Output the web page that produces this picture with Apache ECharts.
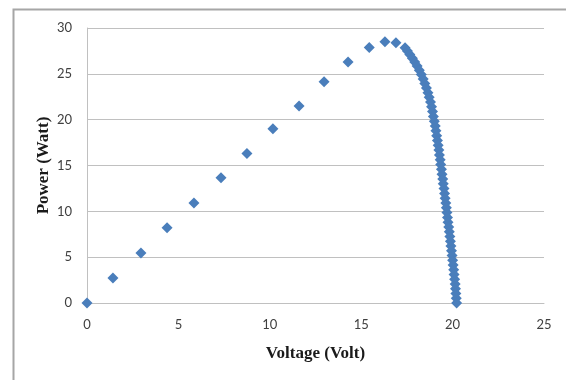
<!DOCTYPE html>
<html>
<head>
<meta charset="utf-8">
<script src="https://cdn.jsdelivr.net/npm/echarts@6/dist/echarts.min.js"></script>
<style>
html,body{margin:0;padding:0;background:#fff;}
#chart{width:566px;height:380px;}
</style>
</head>
<body>
<div id="chart"></div>
<script>
// Voltage (V) readings
var voltage = [
  0, 1.42, 2.95, 4.38, 5.85, 7.33, 8.75, 10.17, 11.6, 12.97, 14.28, 15.44, 16.30, 16.90,
  17.40, 17.53, 17.66, 17.80, 17.93, 18.06, 18.18, 18.29, 18.39, 18.48,
  18.57, 18.65, 18.72, 18.79, 18.85, 18.90, 18.95, 19.00, 19.05, 19.09,
  19.13, 19.17, 19.21, 19.25, 19.28, 19.32, 19.35, 19.39, 19.42, 19.46,
  19.49, 19.53, 19.56, 19.59, 19.63, 19.66, 19.69, 19.72, 19.75, 19.79,
  19.82, 19.85, 19.88, 19.91, 19.94, 19.97, 20.00, 20.03, 20.06, 20.08,
  20.11, 20.14, 20.16, 20.18, 20.20, 20.22
];
// Power (W) readings
var power = [
  0, 2.73, 5.46, 8.2, 10.9, 13.66, 16.3, 19.0, 21.5, 24.15, 26.3, 27.87, 28.5, 28.4,
  27.84, 27.50, 27.10, 26.70, 26.30, 25.85, 25.40, 24.92, 24.45, 23.95,
  23.45, 22.95, 22.45, 21.92, 21.40, 20.88, 20.35, 19.82, 19.30, 18.78,
  18.25, 17.72, 17.20, 16.68, 16.15, 15.62, 15.10, 14.58, 14.05, 13.52,
  13.00, 12.48, 11.95, 11.42, 10.90, 10.38, 9.86, 9.34, 8.82, 8.30,
  7.78, 7.26, 6.74, 6.22, 5.70, 5.18, 4.66, 4.14, 3.62, 3.10,
  2.58, 2.06, 1.55, 1.03, 0.52, 0.00
];
var xAxisTitle = 'Voltage (Volt)';
var yAxisTitle = 'Power (Watt)';

var points = voltage.map(function(v, i){ return [v, power[i]]; });

var chart = echarts.init(document.getElementById('chart'), null, {renderer:'canvas'});
var gridColor = '#C0C0C0';
var labelStyle = {fontFamily:'Lato, "Open Sans", sans-serif', fontSize:13, color:'#404040'};
var titleStyle = {fontFamily:'"Liberation Serif", serif', fontWeight:'bold', fontSize:17, color:'#1a1a1a'};
chart.setOption({
  animation:false,
  backgroundColor:'#fff',
  graphic:[{
    type:'rect', silent:true, z:-10,
    shape:{x:13.5, y:9.5, width:620, height:420},
    style:{fill:'#fff', stroke:'#A6A6A6', lineWidth:2}
  }],
  grid:{left:87, right:22, top:28, bottom:77},
  xAxis:{
    type:'value', min:0, max:25, interval:5,
    name:xAxisTitle, nameLocation:'middle', nameGap:42, nameMoveOverlap:false,
    nameTextStyle:titleStyle,
    axisLine:{show:true, lineStyle:{color:gridColor, width:1}},
    axisTick:{show:false},
    axisLabel:Object.assign({margin:15}, labelStyle),
    splitLine:{show:false}
  },
  yAxis:{
    type:'value', min:0, max:30, interval:5,
    name:yAxisTitle, nameLocation:'middle', nameGap:35, nameRotate:90, nameMoveOverlap:false,
    nameTextStyle:titleStyle,
    axisLine:{show:true, lineStyle:{color:gridColor, width:1}},
    axisTick:{show:false},
    axisLabel:Object.assign({margin:15}, labelStyle),
    splitLine:{show:true, lineStyle:{color:gridColor, width:1}}
  },
  series:[{
    type:'scatter',
    data:points,
    symbol:'diamond',
    symbolSize:11,
    itemStyle:{color:'#4A7EBB', opacity:1},
    clip:false
  }]
});
</script>
</body>
</html>
